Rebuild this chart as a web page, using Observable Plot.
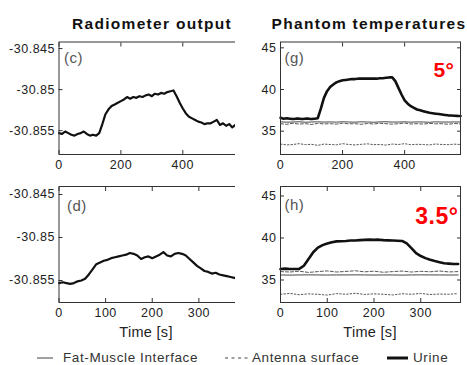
<!DOCTYPE html>
<html><head><meta charset="utf-8">
<script src="https://cdn.jsdelivr.net/npm/d3@7"></script>
<script src="https://cdn.jsdelivr.net/npm/@observablehq/plot@0.6"></script>
<style>
body{margin:0;background:#fff;}
#wrap{position:relative;width:467px;height:365px;font-family:"Liberation Sans",Arial,sans-serif;color:#222;overflow:hidden;background:#fff}
.p{position:absolute}
.ttl{position:absolute;font-weight:bold;font-size:15.5px;letter-spacing:1.3px;line-height:16px;transform:translateX(-50%);white-space:nowrap;color:#111}
.xl{position:absolute;font-size:14.5px;letter-spacing:0.3px;line-height:16px;transform:translateX(-50%);white-space:nowrap;color:#222}
.lg{position:absolute;font-size:13.5px;letter-spacing:0.6px;line-height:14px;white-space:nowrap;color:#333}
</style></head>
<body><div id="wrap"></div>
<script>
// ---- data ----
const xTicksTop = [0, 200, 400];
const xTicksBot = [0, 100, 200, 300];
const yTicksRad = [-30.855, -30.85, -30.845];
const yTicksTemp = [35, 40, 45];
const angles = ["5°", "3.5°"];
const tags = ["(c)", "(d)", "(g)", "(h)"];

const tTop10 = [0,10,20,30,40,50,60,70,80,90,100,110,120,130,140,150,160,170,180,190,200,210,220,230,240,250,260,270,280,290,300,310,320,330,340,350,360,370,380,390,400,410,420,430,440,450,460,470,480,490,500,510,520,530,540,550,560,570,580];
const tTop20 = [0,20,40,60,80,100,120,140,160,180,200,220,240,260,280,300,320,340,360,380,400,420,440,460,480,500,520,540,560,580];
const tBot8 = [0,8,16,24,32,40,48,56,64,72,80,88,96,104,112,120,128,136,144,152,160,168,176,184,192,200,208,216,224,232,240,248,256,264,272,280,288,296,304,312,320,328,336,344,352,360,368,376,384];
const tBot10 = [0,10,20,30,40,50,60,70,80,90,100,110,120,130,140,150,160,170,180,190,200,210,220,230,240,250,260,270,280,290,300,310,320,330,340,350,360,370,380];
const tBot20 = [0,20,40,60,80,100,120,140,160,180,200,220,240,260,280,300,320,340,360,380];

// (c) radiometer output, 5 deg
const radC = [-30.8553,-30.8554,-30.8551,-30.8553,-30.8555,-30.8556,-30.8554,-30.8553,-30.8551,-30.8554,-30.8556,-30.8555,-30.8556,-30.8553,-30.8542,-30.8530,-30.8524,-30.8520,-30.8518,-30.8516,-30.8514,-30.8512,-30.8509,-30.8511,-30.8509,-30.8510,-30.8508,-30.8509,-30.8507,-30.8506,-30.8508,-30.8505,-30.8506,-30.8504,-30.8505,-30.8503,-30.8502,-30.8501,-30.8508,-30.8516,-30.8523,-30.8529,-30.8533,-30.8535,-30.8537,-30.8539,-30.8540,-30.8542,-30.8541,-30.8541,-30.8539,-30.8537,-30.8543,-30.8541,-30.8544,-30.8542,-30.8546,-30.8543,-30.8545];
// (d) radiometer output, 3.5 deg
const radD = [-30.8553,-30.8552,-30.8553,-30.8554,-30.8553,-30.8551,-30.8550,-30.8548,-30.8543,-30.8537,-30.8531,-30.8529,-30.8527,-30.8526,-30.8524,-30.8523,-30.8522,-30.8521,-30.8520,-30.8518,-30.8519,-30.8521,-30.8525,-30.8523,-30.8522,-30.8524,-30.8522,-30.8520,-30.8517,-30.8521,-30.8522,-30.8519,-30.8518,-30.8519,-30.8521,-30.8525,-30.8529,-30.8533,-30.8536,-30.8539,-30.8540,-30.8542,-30.8541,-30.8543,-30.8544,-30.8545,-30.8546,-30.8547,-30.8548];
// (g) phantom temperatures, 5 deg
const urineG = [36.6,36.5,36.55,36.5,36.45,36.5,36.5,36.45,36.5,36.5,36.45,36.5,36.55,37.7,39.0,39.8,40.3,40.6,40.85,41.0,41.1,41.15,41.2,41.25,41.25,41.3,41.3,41.3,41.3,41.3,41.3,41.3,41.35,41.35,41.4,41.45,41.45,41.0,40.2,39.4,38.7,38.3,38.0,37.8,37.6,37.5,37.4,37.3,37.2,37.15,37.1,37.05,37.0,36.95,36.9,36.88,36.85,36.83,36.82];
const fatG = [36.12,36.08,36.1,36.13,36.07,36.1,36.12,36.09,36.11,36.08,36.13,36.1,36.08,36.12,36.1,36.07,36.11,36.13,36.09,36.1,36.12,36.08,36.11,36.1,36.07,36.12,36.1,36.09,36.11,36.1];
const antG = [35.9,35.82,35.95,35.85,35.9,35.8,35.93,35.87,35.9,35.84,35.96,35.88,35.9,35.82,35.92,35.86,35.95,35.9,35.84,35.9,35.97,35.86,35.9,35.85,35.93,35.88,35.9,35.83,35.92,35.88];
const ant2G = [33.45,33.35,33.4,33.5,33.38,33.42,33.3,33.45,33.4,33.36,33.5,33.4,33.35,33.42,33.48,33.38,33.4,33.33,33.45,33.4,33.5,33.37,33.42,33.4,33.35,33.46,33.4,33.38,33.44,33.4];
// (h) phantom temperatures, 3.5 deg
const urineH = [36.3,36.35,36.3,36.3,36.32,36.7,37.5,38.3,38.85,39.15,39.35,39.5,39.6,39.62,39.65,39.7,39.7,39.75,39.78,39.8,39.78,39.8,39.75,39.72,39.7,39.68,39.65,39.35,38.8,38.2,37.85,37.6,37.4,37.25,37.12,37.0,36.95,36.9,36.9];
const fatH = [35.6,35.58,35.6,35.61,35.6,35.59,35.6,35.6,35.61,35.6,35.59,35.6,35.6,35.58,35.6,35.61,35.6,35.6,35.59,35.6];
const antH = [36.0,35.95,36.05,35.9,36.0,36.08,35.95,36.02,36.1,35.97,36.05,35.92,36.0,36.06,35.95,36.03,35.98,36.07,35.96,36.0];
const ant2H = [33.3,33.4,33.25,33.35,33.3,33.2,33.38,33.3,33.42,33.28,33.35,33.3,33.22,33.36,33.3,33.4,33.27,33.33,33.3,33.38];

const legendItems = ["Fat-Muscle Interface", "Antenna surface", "Urine"];

// ---- drawing ----
const zipT = (t, v) => t.map((x, i) => [x, v[i]]);
const styles = {
  rad: {stroke: "#111", strokeWidth: 2.2},
  urine: {stroke: "#111", strokeWidth: 2.6},
  fat: {stroke: "#333", strokeWidth: 0.9},
  ant: {stroke: "#444", strokeWidth: 0.9, strokeDasharray: "3,2"},
  ant2: {stroke: "#444", strokeWidth: 0.9, strokeDasharray: "1.5,2"}
};
const TICK = 4;

function panel(o) {
  const marks = [
    Plot.axisX({anchor: "bottom", ticks: o.xTicks, tickSize: 0, tickPadding: 6, tickFormat: d => String(d), fill: "#222"}),
    Plot.axisY({anchor: "left", ticks: o.yTicks, tickSize: 0, tickPadding: 4, tickFormat: d => String(d), fill: "#222"}),
    // inward ticks on all four sides
    Plot.axisX({anchor: "bottom", ticks: o.xTicks, tickSize: TICK, dy: -TICK, text: null, tickFormat: null, stroke: "#333"}),
    Plot.axisX({anchor: "top", ticks: o.xTicks, tickSize: TICK, dy: TICK, text: null, tickFormat: null, stroke: "#333"}),
    Plot.axisY({anchor: "left", ticks: o.yTicks, tickSize: TICK, dx: TICK, text: null, tickFormat: null, stroke: "#333"}),
    Plot.axisY({anchor: "right", ticks: o.yTicks, tickSize: TICK, dx: -TICK, text: null, tickFormat: null, stroke: "#333"}),
    ...o.lines.map(([t, v, s]) => Plot.line(zipT(t, v), styles[s])),
    Plot.frame({stroke: "#333", strokeWidth: 1}),
    Plot.text([o.tag], {frameAnchor: "top-left", dx: o.tagDx, dy: o.tagDy, lineAnchor: "top", fill: "#555", fontSize: 15, letterSpacing: "1px"})
  ];
  if (o.angle) marks.push(Plot.text([o.angle], {frameAnchor: "top-right", dx: o.angDx, dy: o.angDy, lineAnchor: "top", textAnchor: "end", fill: "#ff0000", fontSize: o.angSize, fontWeight: "bold", letterSpacing: "1px"}));
  const svg = Plot.plot({
    width: o.width, height: o.height,
    marginLeft: o.mL, marginRight: o.mR, marginTop: o.mT, marginBottom: o.mB,
    x: {domain: o.xDomain, label: null},
    y: {domain: o.yDomain, label: null},
    style: {fontSize: "12.5px", letterSpacing: "0.5px", fontFamily: "Liberation Sans, Arial, sans-serif", background: "white", overflow: "visible", color: "#222"},
    marks
  });
  svg.classList.add("p");
  svg.style.left = o.left + "px";
  svg.style.top = o.top + "px";
  return svg;
}

const wrap = document.getElementById("wrap");
wrap.appendChild(panel({left: 0, top: 30, width: 245, height: 145, mL: 58.5, mR: 7, mT: 11.5, mB: 21,
  xDomain: [0, 580], yDomain: [-30.8579, -30.8442], xTicks: xTicksTop, yTicks: yTicksRad,
  lines: [[tTop10, radC, "rad"]], tag: tags[0], tagDx: 5, tagDy: 10}));
wrap.appendChild(panel({left: 0, top: 175, width: 245, height: 150, mL: 58.5, mR: 7, mT: 11, mB: 23,
  xDomain: [0, 385], yDomain: [-30.85756, -30.84407], xTicks: xTicksBot, yTicks: yTicksRad,
  lines: [[tBot8, radD, "rad"]], tag: tags[1], tagDx: 8, tagDy: 14}));
wrap.appendChild(panel({left: 235, top: 30, width: 232, height: 145, mL: 45, mR: 7, mT: 11.5, mB: 21,
  xDomain: [0, 580], yDomain: [32.2, 45.7], xTicks: xTicksTop, yTicks: yTicksTemp,
  lines: [[tTop20, ant2G, "ant2"], [tTop20, antG, "ant"], [tTop20, fatG, "fat"], [tTop10, urineG, "urine"]],
  tag: tags[2], tagDx: 4, tagDy: 10, angle: angles[0], angDx: -6, angDy: 20, angSize: 21}));
wrap.appendChild(panel({left: 235, top: 175, width: 232, height: 150, mL: 45, mR: 7, mT: 11, mB: 23,
  xDomain: [0, 385], yDomain: [32.32, 46.13], xTicks: xTicksBot, yTicks: yTicksTemp,
  lines: [[tBot20, ant2H, "ant2"], [tBot20, antH, "ant"], [tBot20, fatH, "fat"], [tBot10, urineH, "urine"]],
  tag: tags[3], tagDx: 4, tagDy: 13, angle: angles[1], angDx: -2, angDy: 21, angSize: 23}));

function addDiv(cls, text, x, y) {
  const d = document.createElement("div");
  d.className = cls; d.textContent = text;
  d.style.left = x + "px"; d.style.top = y + "px";
  wrap.appendChild(d);
  return d;
}
addDiv("ttl", "Radiometer output", 152, 16);
addDiv("ttl", "Phantom temperatures", 369, 16);
addDiv("xl", "Time [s]", 146, 324);
addDiv("xl", "Time [s]", 370, 324);

// legend
const lg = document.createElementNS("http://www.w3.org/2000/svg", "svg");
lg.setAttribute("width", 467); lg.setAttribute("height", 20);
lg.style.position = "absolute"; lg.style.left = "0px"; lg.style.top = "348px";
const sample = (x1, x2, s) => {
  const l = document.createElementNS("http://www.w3.org/2000/svg", "line");
  l.setAttribute("x1", x1); l.setAttribute("x2", x2); l.setAttribute("y1", 10); l.setAttribute("y2", 10);
  l.setAttribute("stroke", s.stroke); l.setAttribute("stroke-width", s.w);
  if (s.dash) l.setAttribute("stroke-dasharray", s.dash);
  lg.appendChild(l);
};
sample(37, 53, {stroke: "#444", w: 1});
sample(225, 248, {stroke: "#444", w: 1, dash: "3,3.5"});
sample(387, 408, {stroke: "#111", w: 3});
wrap.appendChild(lg);
addDiv("lg", legendItems[0], 63, 351);
addDiv("lg", legendItems[1], 252, 351);
addDiv("lg", legendItems[2], 413, 351);
</script>
</body></html>
